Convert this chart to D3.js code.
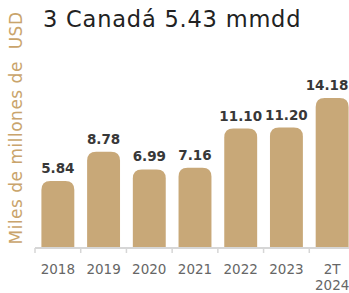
<!DOCTYPE html>
<html>
<head>
<meta charset="utf-8">
<script src="https://cdn.jsdelivr.net/npm/d3@7"></script>
<style>
  body { margin: 0; background: #fff; }
  svg { display: block; font-family: 'DejaVu Sans', sans-serif; }
</style>
</head>
<body>
<svg id="chart" width="349" height="293"></svg>
<script>
const categories = [['2018'], ['2019'], ['2020'], ['2021'], ['2022'], ['2023'], ['2T', '2024']]
const values = [5.84, 8.78, 6.99, 7.16, 11.10, 11.20, 14.18]
const valueLabels = ['5.84', '8.78', '6.99', '7.16', '11.10', '11.20', '14.18']
const title = '3 Canadá 5.43 mmdd'
const yTitle = 'Miles de millones de  USD'

const svg = d3.select('#chart')
const baseY = 248

const x = d3.scaleBand()
  .domain(categories.map((c, i) => i))
  .range([35, 355])
  .paddingInner(0.28)
  .paddingOuter(0.14)

const y = d3.scaleLinear()
  .domain([-0.9, 20])
  .range([baseY, baseY - 9.95 * 20.9])

// rounded top only
const barPath = (x0, y0, w, h, r) =>
  `M${x0},${y0 + h}V${y0 + r}Q${x0},${y0} ${x0 + r},${y0}H${x0 + w - r}` +
  `Q${x0 + w},${y0} ${x0 + w},${y0 + r}V${y0 + h}Z`

svg.append('g').selectAll('path')
  .data(values)
  .join('path')
  .attr('fill', '#c8a878')
  .attr('d', (v, i) => barPath(x(i), y(v), x.bandwidth(), baseY - y(v), 9))

// keep the last label inside the visible area
svg.append('g').selectAll('text')
  .data(values)
  .join('text')
  .attr('x', (v, i) => Math.min(x(i) + x.bandwidth() / 2, 327))
  .attr('y', v => y(v) - 8)
  .attr('text-anchor', 'middle')
  .attr('font-size', 13.5)
  .attr('font-weight', 'bold')
  .attr('fill', '#383838')
  .text((v, i) => valueLabels[i])

// axis
const axis = svg.append('g')
axis.append('line')
  .attr('x1', 35).attr('x2', 349)
  .attr('y1', baseY).attr('y2', baseY)
  .attr('stroke', '#d6d6d6').attr('stroke-width', 2)
axis.selectAll('line.tick')
  .data(d3.range(categories.length))
  .join('line')
  .attr('class', 'tick')
  .attr('x1', i => x(i) - x.step() * x.paddingOuter())
  .attr('x2', i => x(i) - x.step() * x.paddingOuter())
  .attr('y1', baseY).attr('y2', baseY + 5)
  .attr('stroke', '#d6d6d6').attr('stroke-width', 1.5)

const tickText = axis.selectAll('text')
  .data(categories)
  .join('text')
  .attr('x', (c, i) => x(i) + x.bandwidth() / 2)
  .attr('y', 274)
  .attr('text-anchor', 'middle')
  .attr('font-size', 13.5)
  .attr('fill', '#666')
tickText.selectAll('tspan')
  .data(c => c)
  .join('tspan')
  .attr('x', function () { return this.parentNode.getAttribute('x') })
  .attr('dy', (t, j) => j === 0 ? 0 : 16)
  .text(t => t)

svg.append('text')
  .attr('x', 43)
  .attr('y', 27)
  .attr('font-size', 22.5)
  .attr('letter-spacing', 0.8)
  .attr('fill', '#222')
  .text(title)

svg.append('text')
  .attr('transform', 'translate(22,128) rotate(-90)')
  .attr('text-anchor', 'middle')
  .attr('font-size', 17)
  .attr('letter-spacing', 0.5)
  .attr('fill', '#c9a46c')
  .attr('xml:space', 'preserve')
  .style('white-space', 'pre')
  .text(yTitle)
</script>
</body>
</html>
